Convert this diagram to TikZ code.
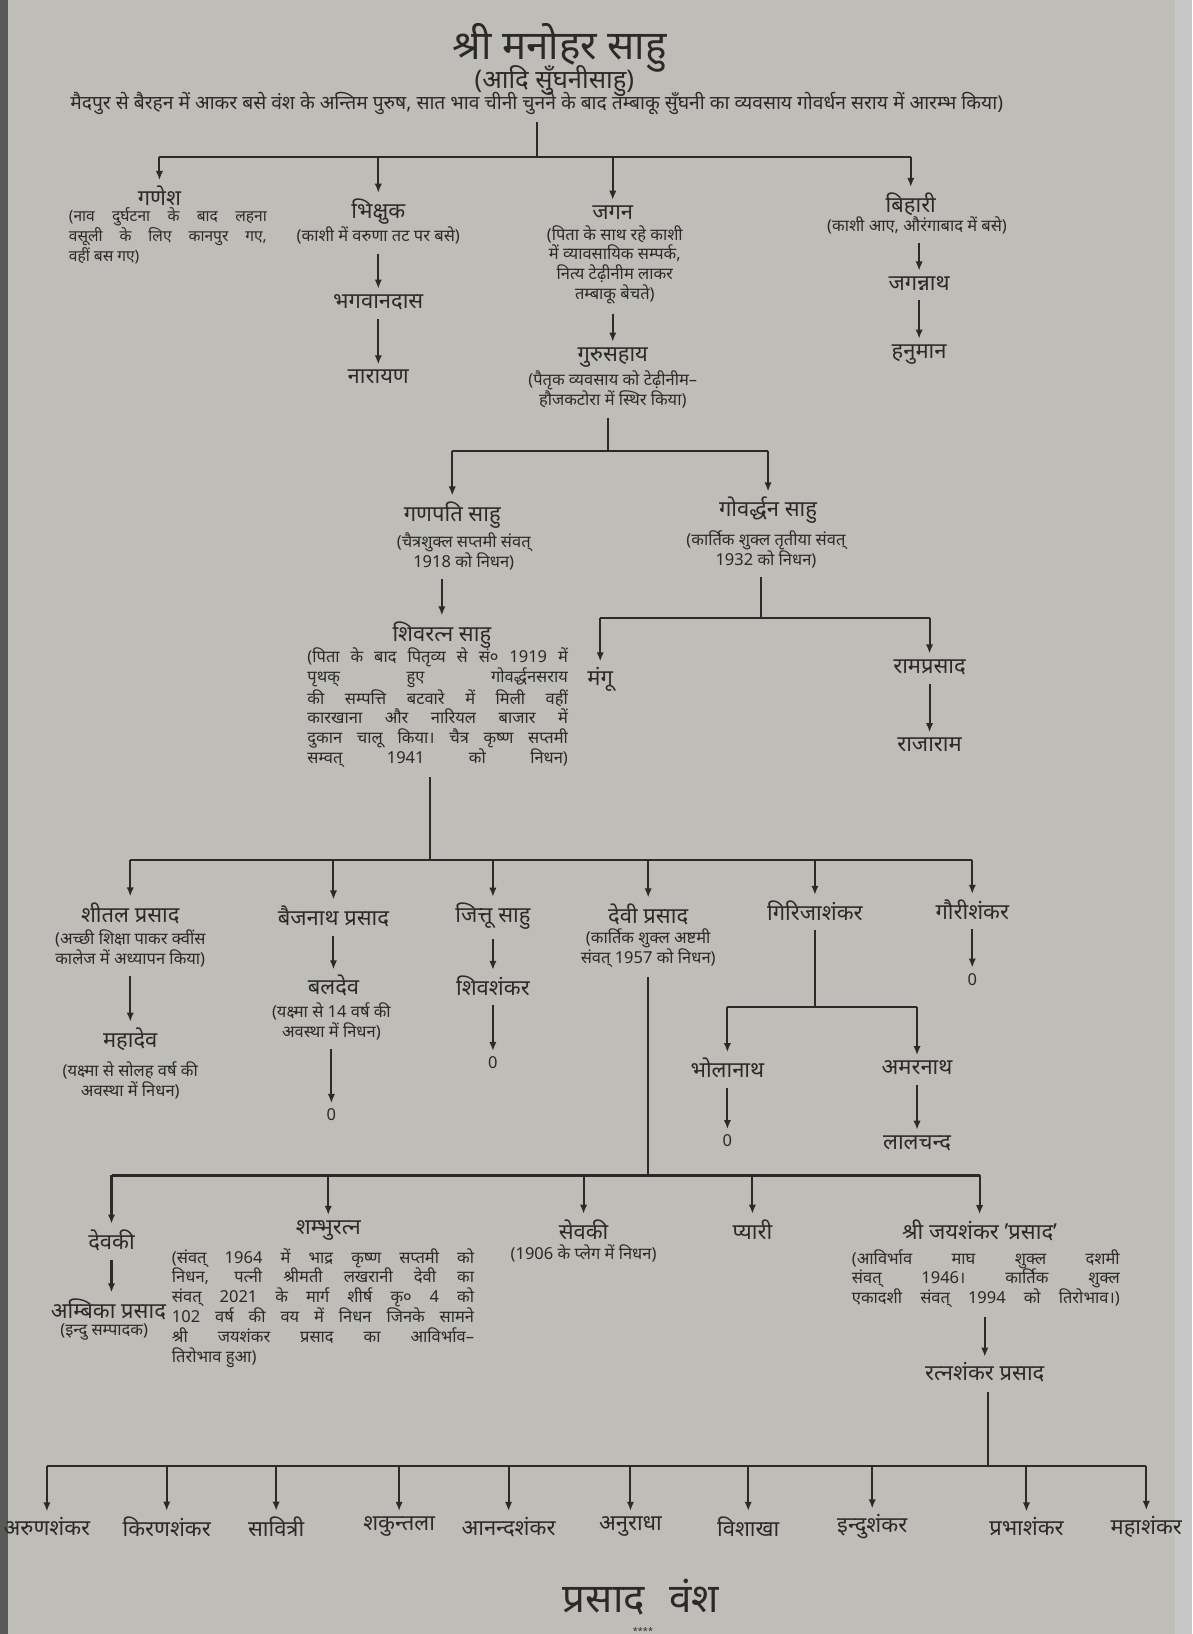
\documentclass[tikz,border=0pt]{standalone}
\usepackage{fontspec}
\setmainfont[Script=Devanagari]{Noto Sans}
\usepackage{tikz}
\usetikzlibrary{arrows.meta}
\definecolor{paper}{RGB}{190,189,184}
\definecolor{ink}{RGB}{42,42,42}
\newcommand{\jline}[2]{\makebox[#1][s]{#2}}

\tikzset{
  nm/.style={font=\fontsize{12}{14}\selectfont, inner sep=1pt, text=ink},
  nt/.style={font=\fontsize{9}{10.8}\selectfont, inner sep=1pt, align=center, text=ink},
  ln/.style={draw=ink, line width=1.1pt},
  ar/.style={ln, -{Latex[length=5pt,width=4pt]}, shorten >=2pt},
  dn/.style={ar, shorten <=4pt},
}

\begin{document}
\begin{tikzpicture}[x=0.02cm, y=-0.02cm]
\useasboundingbox (0,0) rectangle (1144,1568);
\fill[paper] (0,0) rectangle (1144,1568);
\fill[black!65] (0,0) rectangle (8,1568);
\fill[black!22] (1128,0) rectangle (1144,1568);

% head of the line
\node[nm, font=\fontsize{22}{24}\selectfont] (ttl) at (537,46) {श्री मनोहर साहु};
\node[nm, font=\fontsize{14}{16}\selectfont] (ttlsub) at (532,78) {(आदि सुँघनीसाहु)};
\node[nt, font=\fontsize{10.5}{12}\selectfont] (hdr) at (515,99) {मैदपुर से बैरहन में आकर बसे वंश के अन्तिम पुरुष, सात भाव चीनी चुनने के बाद तम्बाकू सुँघनी का व्यवसाय गोवर्धन सराय में आरम्भ किया)};
\coordinate (j0) at (515,151);

% first generation
\node[nm] (ganesh) at (153,188) {गणेश};
\node[nt, font=\fontsize{8.5}{9.5}\selectfont, align=left, anchor=north west] (ganeshN) at (64,197) {\jline{3.8cm}{(नाव दुर्घटना के बाद लहना}\\\jline{3.8cm}{वसूली के लिए कानपुर गए,}\\वहीं बस गए)};
\node[nm] (bhikshuk) at (363,203) {भिक्षुक};
\node[nt] (bhikshukN) at (363,226) {(काशी में वरुणा तट पर बसे)};
\node[nm] (bhagwan) at (363,290) {भगवानदास};
\node[nm] (narayan) at (363,362) {नारायण};
\node[nm] (jagan) at (588,204) {जगन};
\node[nt] (jaganN) at (590,254) {(पिता के साथ रहे काशी\\में व्यावसायिक सम्पर्क,\\नित्य टेढ़ीनीम लाकर\\तम्बाकू बेचते)};
\node[nm] (gurusahay) at (588,343) {गुरुसहाय};
\node[nt] (gurusahayN) at (588,374) {(पैतृक व्यवसाय को टेढ़ीनीम–\\हौजकटोरा में स्थिर किया)};
\node[nm] (bihari) at (874,196) {बिहारी};
\node[nt] (bihariN) at (880,216) {(काशी आए, औरंगाबाद में बसे)};
\node[nm] (jagannath) at (882,272) {जगन्नाथ};
\node[nm] (hanuman) at (882,340) {हनुमान};

\draw[ln, shorten <=3pt] (hdr.south -| j0) -- (j0);
\draw[ln] (ganesh |- j0) -- (bihari |- j0);
\foreach \n in {ganesh,bhikshuk,jagan,bihari}
  \draw[ar] (\n |- j0) -- (\n.north);
\draw[dn] (bhikshukN.south -| bhagwan) -- (bhagwan.north);
\draw[dn] (bhagwan.south) -- (narayan.north);
\draw[dn] (jaganN.south -| gurusahay) -- (gurusahay.north);
\draw[dn] (bihariN.south -| jagannath) -- (jagannath.north);
\draw[dn] (jagannath.south) -- (hanuman.north);

% second generation
\coordinate (j1) at (583,433);
\node[nm] (ganpati) at (434,494) {गणपति साहु};
\node[nt] (ganpatiN) at (445,529) {(चैत्रशुक्ल सप्तमी संवत्\\1918 को निधन)};
\node[nm] (govardhan) at (737,490) {गोवर्द्धन साहु};
\node[nt] (govardhanN) at (735,527) {(कार्तिक शुक्ल तृतीया संवत्\\1932 को निधन)};
\node[nm] (shivratan) at (424,609) {शिवरत्न साहु};
\node[nt] (shivratanN) at (420,679) {\jline{5cm}{(पिता के बाद पितृव्य से सं० 1919 में}\\
  \jline{5cm}{पृथक् हुए गोवर्द्धनसराय}\\
  \jline{5cm}{की सम्पत्ति बटवारे में मिली वहीं}\\
  \jline{5cm}{कारखाना और नारियल बाजार में}\\
  \jline{5cm}{दुकान चालू किया। चैत्र कृष्ण सप्तमी}\\
  \jline{5cm}{सम्वत् 1941 को निधन)}};
\coordinate (j2) at (730,593);
\node[nm] (mangu) at (576,652) {मंगू};
\node[nm] (ramprasad) at (892,640) {रामप्रसाद};
\node[nm] (rajaram) at (892,715) {राजाराम};

\draw[ln, shorten <=4pt] (gurusahayN.south -| j1) -- (j1);
\draw[ln] (ganpati |- j1) -- (govardhan |- j1);
\foreach \n in {ganpati,govardhan}
  \draw[ar] (\n |- j1) -- (\n.north);
\draw[dn] (ganpatiN.south -| shivratan) -- (shivratan.north);
\draw[ln, shorten <=4pt] (govardhanN.south -| j2) -- (j2);
\draw[ln] (mangu |- j2) -- (ramprasad |- j2);
\foreach \n in {mangu,ramprasad}
  \draw[ar] (\n |- j2) -- (\n.north);
\draw[dn] (ramprasad.south) -- (rajaram.north);

% third generation
\coordinate (j3) at (413,825);
\node[nm] (sheetal) at (125,876) {शीतल प्रसाद};
\node[nt] (sheetalN) at (125,910) {(अच्छी शिक्षा पाकर क्वींस\\कालेज में अध्यापन किया)};
\node[nm] (mahadev) at (125,997) {महादेव};
\node[nt] (mahadevN) at (125,1037) {(यक्ष्मा से सोलह वर्ष की\\अवस्था में निधन)};
\node[nm] (baijnath) at (320,879) {बैजनाथ प्रसाद};
\node[nm] (baldev) at (320,946) {बलदेव};
\node[nt] (baldevN) at (318,980) {(यक्ष्मा से 14 वर्ष की\\अवस्था में निधन)};
\node[nt, font=\fontsize{9}{10}\selectfont] (zeroA) at (318,1070) {0};
\node[nm] (jittu) at (473,879) {जित्तू साहु};
\node[nm] (shivshankar) at (473,946) {शिवशंकर};
\node[nt, font=\fontsize{9}{10}\selectfont] (zeroB) at (473,1020) {0};
\node[nm] (devi) at (622,877) {देवी प्रसाद};
\node[nt] (deviN) at (622,910) {(कार्तिक शुक्ल अष्टमी\\संवत् 1957 को निधन)};
\node[nm] (girija) at (782,874) {गिरिजाशंकर};
\coordinate (j4) at (782,966);
\node[nm] (bholanath) at (698,1025) {भोलानाथ};
\node[nt, font=\fontsize{9}{10}\selectfont] (zeroC) at (698,1095) {0};
\node[nm] (amarnath) at (880,1025) {अमरनाथ};
\node[nm] (lalchand) at (880,1097) {लालचन्द};
\node[nm] (gauri) at (933,873) {गौरीशंकर};
\node[nt, font=\fontsize{9}{10}\selectfont] (zeroD) at (933,940) {0};

\draw[ln, shorten <=4pt] (shivratanN.south -| j3) -- (j3);
\draw[ln] (sheetal |- j3) -- (gauri |- j3);
\foreach \n in {sheetal,baijnath,jittu,devi,girija,gauri}
  \draw[ar] (\n |- j3) -- (\n.north);
\draw[dn] (sheetalN.south -| mahadev) -- (mahadev.north);
\draw[dn] (baijnath.south) -- (baldev.north);
\draw[dn] (baldevN.south -| zeroA) -- (zeroA.north);
\draw[dn] (jittu.south) -- (shivshankar.north);
\draw[dn] (shivshankar.south) -- (zeroB.north);
\draw[ln, shorten <=4pt] (girija.south) -- (j4);
\draw[ln] (bholanath |- j4) -- (amarnath |- j4);
\foreach \n in {bholanath,amarnath}
  \draw[ar] (\n |- j4) -- (\n.north);
\draw[dn] (bholanath.south) -- (zeroC.north);
\draw[dn] (amarnath.south) -- (lalchand.north);
\draw[dn] (gauri.south) -- (zeroD.north);

% fourth generation
\coordinate (j5) at (622,1128);
\node[nm] (devaki) at (107,1190) {देवकी};
\node[nm] (ambika) at (104,1256) {अम्बिका प्रसाद};
\node[nt] (ambikaN) at (100,1278) {(इन्दु सम्पादक)};
\node[nm] (shambhu) at (315,1181) {शम्भुरत्न};
\node[nt] (shambhuN) at (310,1255) {\jline{5.8cm}{(संवत् 1964 में भाद्र कृष्ण सप्तमी को}\\
  \jline{5.8cm}{निधन, पत्नी श्रीमती लखरानी देवी का}\\
  \jline{5.8cm}{संवत् 2021 के मार्ग शीर्ष कृ० 4 को}\\
  \jline{5.8cm}{102 वर्ष की वय में निधन जिनके सामने}\\
  \jline{5.8cm}{श्री जयशंकर प्रसाद का आविर्भाव–}\\
  \makebox[5.8cm][l]{तिरोभाव हुआ)}};
\node[nm] (sevaki) at (560,1180) {सेवकी};
\node[nt] (sevakiN) at (560,1203) {(1906 के प्लेग में निधन)};
\node[nm] (pyari) at (722,1180) {प्यारी};
\node[nm] (jaishankar) at (940,1181) {श्री जयशंकर 'प्रसाद'};
\node[nt] (jaishankarN) at (946,1227) {\jline{5.14cm}{(आविर्भाव माघ शुक्ल दशमी}\\
  \jline{5.14cm}{संवत् 1946। कार्तिक शुक्ल}\\
  \jline{5.14cm}{एकादशी संवत् 1994 को तिरोभाव।)}};
\node[nm] (ratnashankar) at (945,1317) {रत्नशंकर प्रसाद};

\draw[ln, shorten <=4pt] (deviN.south -| j5) -- (j5);
\draw[ln] (devaki |- j5) -- (jaishankar |- j5);
\foreach \n in {devaki,shambhu,sevaki,pyari,jaishankar}
  \draw[ar] (\n |- j5) -- (\n.north);
\draw[dn] (devaki.south) -- (devaki.south |- ambika.north);
\draw[dn] (jaishankarN.south -| ratnashankar) -- (ratnashankar.north);

% fifth generation
\coordinate (j6) at (948,1407);
\node[nm] (gA) at (45,1465) {अरुणशंकर};
\node[nm] (gB) at (160,1465) {किरणशंकर};
\node[nm] (gC) at (265,1465) {सावित्री};
\node[nm] (gD) at (383,1465) {शकुन्तला};
\node[nm] (gE) at (488,1465) {आनन्दशंकर};
\node[nm] (gF) at (605,1465) {अनुराधा};
\node[nm] (gG) at (718,1465) {विशाखा};
\node[nm] (gH) at (837,1465) {इन्दुशंकर};
\node[nm] (gI) at (985,1465) {प्रभाशंकर};
\node[nm] (gJ) at (1100,1465) {महाशंकर};

\draw[ln, shorten <=4pt] (ratnashankar.south -| j6) -- (j6);
\draw[ln] (gA |- j6) -- (gJ |- j6);
\foreach \n in {gA,gB,gC,gD,gE,gF,gG,gH,gI,gJ}
  \draw[ar] (\n |- j6) -- (\n.north);

% foot
\node[nm, font=\fontsize{22}{24}\selectfont\bfseries] (vansh) at (615,1533) {प्रसाद\hspace{0.6em}वंश};
\node[nt, font=\fontsize{5}{6}\selectfont\bfseries] (stars) at (617,1565) {****};
\end{tikzpicture}
\end{document}
